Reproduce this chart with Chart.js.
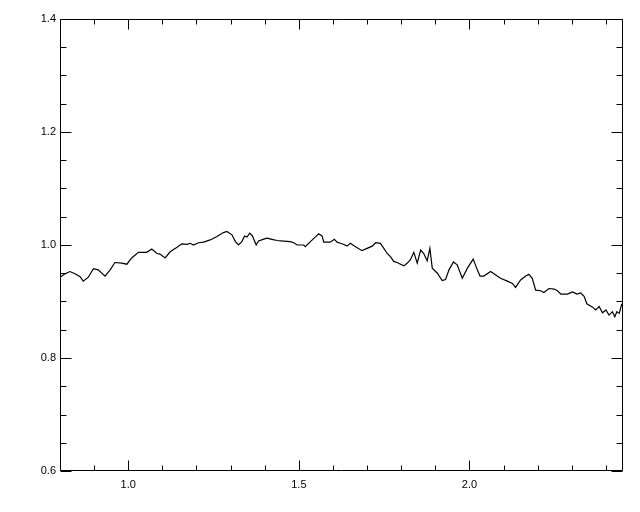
<!DOCTYPE html>
<html>
<head>
<meta charset="utf-8">
<script src="https://cdn.jsdelivr.net/npm/chart.js@4/dist/chart.umd.min.js"></script>
<style>
html,body{margin:0;padding:0;background:#fff;}
#wrap{width:640px;height:512px;}
</style>
</head>
<body>
<div id="wrap"><canvas id="c" width="640" height="512"></canvas></div>
<script>
const xValues = [0.800,0.815,0.829,0.844,0.859,0.868,0.883,0.898,0.912,0.932,0.947,0.961,0.981,0.996,1.010,1.030,1.054,1.069,1.084,1.093,1.108,1.123,1.143,1.157,1.172,1.182,1.191,1.206,1.221,1.240,1.260,1.279,1.289,1.304,1.314,1.323,1.333,1.341,1.348,1.356,1.364,1.375,1.382,1.395,1.407,1.421,1.436,1.455,1.475,1.485,1.495,1.514,1.519,1.534,1.548,1.558,1.568,1.573,1.592,1.604,1.612,1.622,1.632,1.641,1.651,1.666,1.685,1.700,1.715,1.725,1.739,1.749,1.759,1.769,1.778,1.788,1.798,1.808,1.818,1.827,1.837,1.847,1.857,1.866,1.876,1.884,1.891,1.906,1.920,1.930,1.940,1.953,1.964,1.979,1.994,2.011,2.023,2.031,2.042,2.062,2.077,2.091,2.111,2.126,2.135,2.150,2.165,2.174,2.184,2.194,2.209,2.218,2.233,2.248,2.258,2.268,2.287,2.302,2.315,2.326,2.336,2.344,2.361,2.370,2.380,2.390,2.400,2.409,2.419,2.426,2.432,2.439,2.446,2.450];
const yValues = [0.943,0.949,0.953,0.949,0.944,0.936,0.943,0.958,0.956,0.945,0.956,0.969,0.968,0.966,0.977,0.987,0.987,0.993,0.985,0.984,0.977,0.988,0.996,1.002,1.001,1.003,1.000,1.004,1.005,1.009,1.015,1.022,1.024,1.018,1.006,1.000,1.006,1.016,1.014,1.021,1.016,1.000,1.007,1.010,1.012,1.010,1.008,1.007,1.006,1.004,1.000,1.000,0.997,1.006,1.014,1.020,1.016,1.005,1.005,1.010,1.005,1.003,1.001,0.998,1.003,0.997,0.990,0.994,0.998,1.004,1.003,0.994,0.985,0.979,0.971,0.969,0.966,0.963,0.968,0.974,0.987,0.968,0.991,0.985,0.972,0.994,0.959,0.950,0.937,0.939,0.956,0.970,0.965,0.941,0.959,0.975,0.956,0.945,0.945,0.953,0.947,0.941,0.936,0.932,0.925,0.938,0.945,0.948,0.941,0.920,0.919,0.916,0.923,0.922,0.919,0.913,0.913,0.917,0.913,0.915,0.909,0.896,0.890,0.885,0.891,0.880,0.885,0.876,0.882,0.873,0.882,0.879,0.895,0.896];
const xTickLabels = [1.0, 1.5, 2.0];
const yTickLabels = [0.6, 0.8, 1.0, 1.2, 1.4];
const xRange = [0.8, 2.45];
const yRange = [0.6, 1.4];

const points = xValues.map((x, i) => ({x: x, y: yValues[i]}));

const frameTicks = {
  id: 'frameTicks',
  afterDraw(chart) {
    const ctx = chart.ctx;
    const a = chart.chartArea;
    const xs = chart.scales.x, ys = chart.scales.y;
    const L = Math.round(a.left) + 0.5, R = Math.round(a.right) - 0.5;
    const T = Math.round(a.top) + 0.5, B = Math.round(a.bottom) - 0.5;
    ctx.save();
    ctx.strokeStyle = '#000';
    ctx.lineWidth = 1;
    ctx.beginPath();
    ctx.rect(L, T, R - L, B - T);
    ctx.stroke();
    ctx.beginPath();
    for (let k = 9; k <= 24; k++) {
      const v = k / 10;
      const major = (k % 5 === 0);
      const len = major ? 10 : 5;
      const px = Math.round(xs.getPixelForValue(v)) + 0.5;
      ctx.moveTo(px, B); ctx.lineTo(px, B - len);
      ctx.moveTo(px, T); ctx.lineTo(px, T + len);
    }
    for (let k = 12; k <= 28; k++) {
      const v = k / 20;
      const major = (k % 4 === 0);
      const len = major ? 11 : 6;
      const py = Math.round(ys.getPixelForValue(v)) + 0.5;
      ctx.moveTo(L, py); ctx.lineTo(L + len, py);
      ctx.moveTo(R, py); ctx.lineTo(R - len, py);
    }
    ctx.stroke();
    ctx.restore();
  }
};

new Chart(document.getElementById('c'), {
  type: 'line',
  data: {
    datasets: [{
      data: points,
      borderColor: '#000',
      borderWidth: 1.2,
      pointRadius: 0,
      tension: 0,
      fill: false
    }]
  },
  options: {
    responsive: false,
    animation: false,
    devicePixelRatio: 1,
    layout: {padding: {top: 19, right: 17, left: 0, bottom: 0}},
    plugins: {legend: {display: false}, tooltip: {enabled: false}},
    scales: {
      x: {
        type: 'linear',
        min: xRange[0], max: xRange[1],
        afterBuildTicks: s => { s.ticks = xTickLabels.map(v => ({value: v})); },
        afterFit: s => { s.height = 41; },
        grid: {display: false, drawTicks: false},
        border: {display: false},
        ticks: {
          padding: 7,
          color: '#000',
          font: {family: 'Liberation Sans', size: 11},
          callback: v => Number(v).toFixed(1),
          maxRotation: 0
        }
      },
      y: {
        type: 'linear',
        min: yRange[0], max: yRange[1],
        afterBuildTicks: s => { s.ticks = yTickLabels.map(v => ({value: v})); },
        afterFit: s => { s.width = 60; },
        grid: {display: false, drawTicks: false},
        border: {display: false},
        ticks: {
          padding: 4,
          color: '#000',
          font: {family: 'Liberation Sans', size: 11},
          callback: v => Number(v).toFixed(1)
        }
      }
    }
  },
  plugins: [frameTicks]
});
</script>
</body>
</html>
